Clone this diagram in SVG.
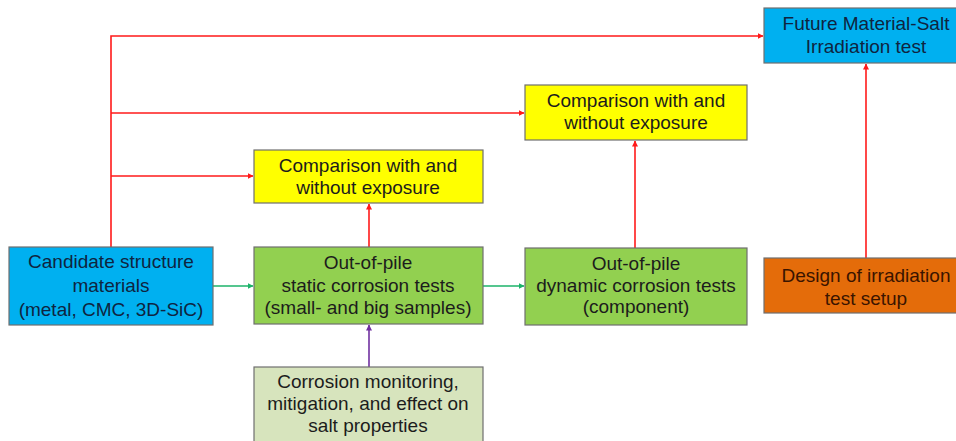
<svg xmlns="http://www.w3.org/2000/svg" width="956" height="441" viewBox="0 0 956 441">
<style>
.box{stroke:#6f6f6f;stroke-width:1.2}
.t{font-family:"Liberation Sans",Arial,sans-serif;font-size:19px;text-anchor:middle;fill:#1c1c1c}
.tb{fill:#0f2440}
.to{fill:#3a1400}
.red{stroke:#ff1a1a;stroke-width:1.6;fill:none}
.grn{stroke:#1db36a;stroke-width:1.6;fill:none}
.pur{stroke:#7030a0;stroke-width:1.6;fill:none}
</style>
<defs>
<marker id="ar" viewBox="0 0 6 6" refX="5.5" refY="3" markerWidth="6" markerHeight="6" markerUnits="userSpaceOnUse" orient="auto"><path d="M0,0 L6,3 L0,6 z" fill="#ff1a1a"/></marker>
<marker id="ag" viewBox="0 0 6 6" refX="5.5" refY="3" markerWidth="6" markerHeight="6" markerUnits="userSpaceOnUse" orient="auto"><path d="M0,0 L6,3 L0,6 z" fill="#1db36a"/></marker>
<marker id="ap" viewBox="0 0 6 6" refX="5.5" refY="3" markerWidth="6" markerHeight="6" markerUnits="userSpaceOnUse" orient="auto"><path d="M0,0 L6,3 L0,6 z" fill="#7030a0"/></marker>
</defs>
<rect width="956" height="441" fill="#ffffff"/>
<g id="connectors">
<path class="red" d="M111,247 V36 H763" marker-end="url(#ar)"/>
<path class="red" d="M111,113 H524" marker-end="url(#ar)"/>
<path class="red" d="M111,176 H253" marker-end="url(#ar)"/>
<path class="red" d="M369,247 V204" marker-end="url(#ar)"/>
<path class="red" d="M635,248 V141" marker-end="url(#ar)"/>
<path class="red" d="M866,258 V64" marker-end="url(#ar)"/>
<path class="grn" d="M213,286 H253" marker-end="url(#ag)"/>
<path class="grn" d="M483,286 H524" marker-end="url(#ag)"/>
<path class="pur" d="M369,367 V325" marker-end="url(#ap)"/>
</g>
<g id="candidate">
<rect class="box" x="9" y="247" width="204" height="78" fill="#00b0f0"/>
<text class="t tb" x="111" y="268">Candidate structure</text>
<text class="t tb" x="111" y="292">materials</text>
<text class="t tb" x="111" y="316">(metal, CMC, 3D-SiC)</text>
</g>
<g id="comparison1">
<rect class="box" x="254" y="150" width="229" height="53" fill="#ffff00"/>
<text class="t" x="368" y="172">Comparison with and</text>
<text class="t" x="368" y="194">without exposure</text>
</g>
<g id="static">
<rect class="box" x="254" y="247" width="229" height="77" fill="#92d050"/>
<text class="t" x="368" y="269">Out-of-pile</text>
<text class="t" x="368" y="292">static corrosion tests</text>
<text class="t" x="368" y="314">(small- and big samples)</text>
</g>
<g id="monitoring">
<rect class="box" x="254" y="367" width="229" height="80" fill="#d7e4bd"/>
<text class="t" x="368" y="388">Corrosion monitoring,</text>
<text class="t" x="368" y="410">mitigation, and effect on</text>
<text class="t" x="368" y="432">salt properties</text>
</g>
<g id="comparison2">
<rect class="box" x="525" y="85" width="222" height="55" fill="#ffff00"/>
<text class="t" x="636" y="107">Comparison with and</text>
<text class="t" x="636" y="129">without exposure</text>
</g>
<g id="dynamic">
<rect class="box" x="525" y="248" width="222" height="77" fill="#92d050"/>
<text class="t" x="636" y="270">Out-of-pile</text>
<text class="t" x="636" y="292">dynamic corrosion tests</text>
<text class="t" x="636" y="313">(component)</text>
</g>
<g id="future">
<rect class="box" x="764" y="8" width="200" height="55" fill="#00b0f0"/>
<text class="t tb" x="866" y="30">Future Material-Salt</text>
<text class="t tb" x="866" y="53">Irradiation test</text>
</g>
<g id="design">
<rect class="box" x="764" y="258" width="200" height="55" fill="#e46c0a"/>
<text class="t to" x="866" y="282">Design of irradiation</text>
<text class="t to" x="866" y="305">test setup</text>
</g>
</svg>
